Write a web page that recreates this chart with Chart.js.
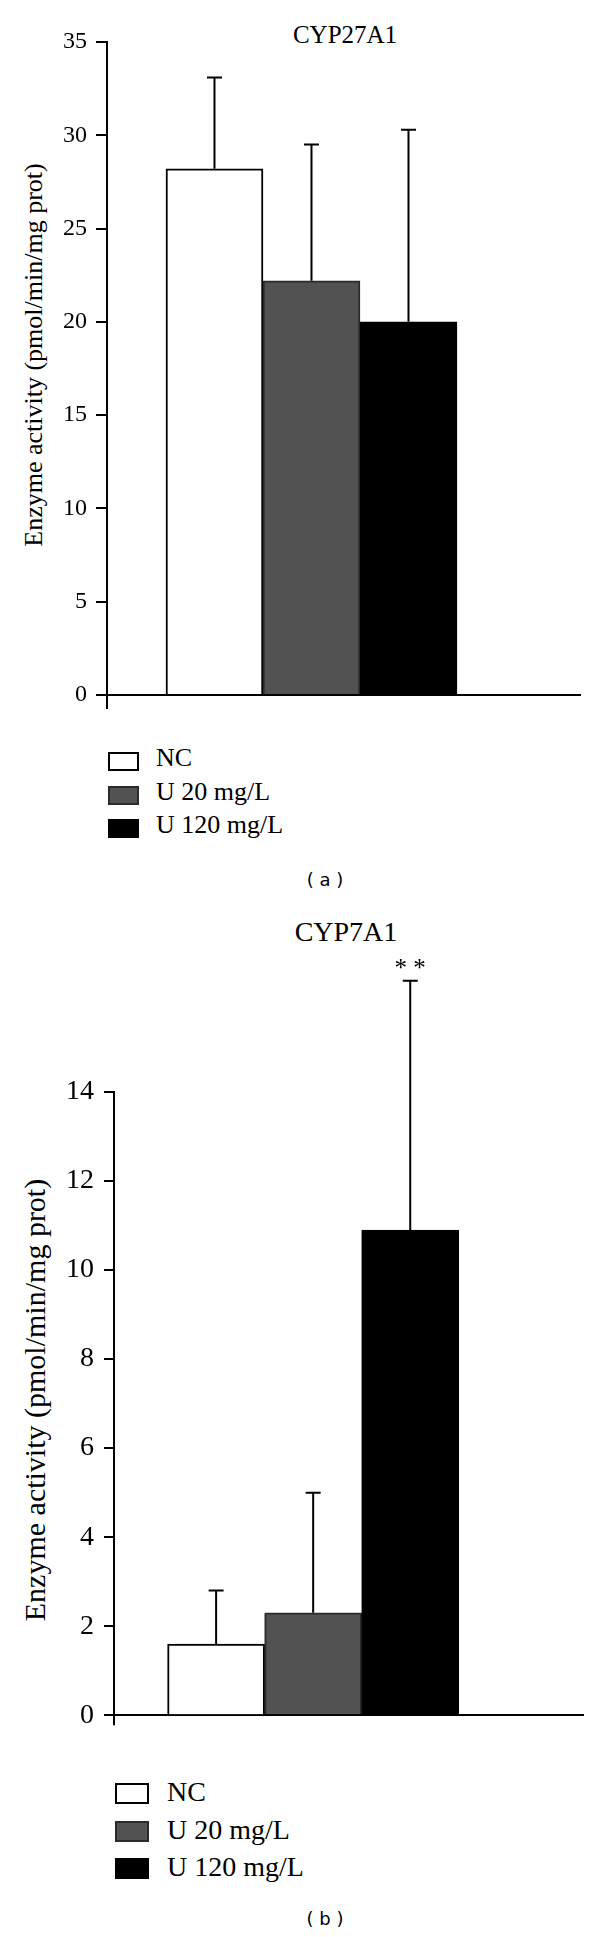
<!DOCTYPE html>
<html lang="en">

<head>
  <meta charset="UTF-8">
  <title>CYP27A1 / CYP7A1 enzyme activity</title>
  <script src="https://cdn.jsdelivr.net/npm/chart.js@4"></script>
  <style>
    body {
      margin: 0;
      width: 600px;
      height: 1937px;
      position: relative;
      overflow: hidden;
      background: #fff;
      color: #000;
      font-family: 'Liberation Serif', serif;
    }

    canvas,
    .txt {
      position: absolute;
    }

    .txt {
      line-height: 1;
      white-space: nowrap;
      text-align: center;
    }

    .ylab {
      width: 460px;
      transform: rotate(-90deg);
    }

    .cap {
      font-family: 'DejaVu Sans', sans-serif;
      font-size: 18px;
      width: 100px;
      left: 275px;
    }

    .row {
      position: absolute;
    }

    .row .box {
      position: absolute;
      left: 0;
      box-sizing: border-box;
      border: 2px solid #000;
    }

    .row .lbl {
      position: absolute;
      line-height: 1;
      white-space: nowrap;
    }
  </style>
</head>

<body>
  <div class="txt" style="left:245px; width:200px; top:22px; font-size:25px;">CYP27A1</div>
  <div class="txt ylab" style="left:-196px; top:342px; font-size:26px;">Enzyme activity (pmol/min/mg prot)</div>
  <canvas id="chartA" width="600" height="720" style="left:0; top:0;"></canvas>
  <div id="legendA"></div>
  <div class="txt cap" style="top:871px;">( a )</div>

  <div class="txt" style="left:246px; width:200px; top:918px; font-size:28px;">CYP7A1</div>
  <div class="txt ylab" style="left:-195px; top:1385px; font-size:30px;">Enzyme activity (pmol/min/mg prot)</div>
  <canvas id="chartB" width="600" height="802" style="left:0; top:940px;"></canvas>
  <div id="legendB"></div>
  <div class="txt cap" style="top:1910px;">( b )</div>

  <script>
    // groups (same for both panels)
    const groups = ['NC', 'U 20 mg/L', 'U 120 mg/L'];
    const xPos = [1, 2, 3];

    // CYP27A1, panel (a)
    const cyp27Mean = [28.2, 22.2, 20.0];
    const cyp27Err = [4.9, 7.3, 10.3];
    const cyp27Ticks = [0, 5, 10, 15, 20, 25, 30, 35];
    const cyp27Marks = ['', '', ''];

    // CYP7A1, panel (b)
    const cyp7Mean = [1.6, 2.3, 10.9];
    const cyp7Err = [1.2, 2.7, 5.6];
    const cyp7Ticks = [0, 2, 4, 6, 8, 10, 12, 14];
    const cyp7Marks = ['', '', '**'];

    const fills = ['#ffffff', '#525252', '#000000'];
    const edges = ['#000000', '#2b2b2b', '#000000'];

    // mean + SD whiskers, and significance stars on top
    const errorBars = {
      id: 'errorBars',
      afterDatasetsDraw(chart, args, opts) {
        const ctx = chart.ctx;
        const y = chart.scales.y;
        const bars = chart.getDatasetMeta(0).data;
        ctx.save();
        ctx.strokeStyle = '#000';
        ctx.lineWidth = 2;
        bars.forEach((bar, i) => {
          const top = y.getPixelForValue(opts.means[i] + opts.errs[i]);
          ctx.beginPath();
          ctx.moveTo(bar.x, bar.y);
          ctx.lineTo(bar.x, top);
          ctx.moveTo(bar.x - 7.5, top);
          ctx.lineTo(bar.x + 7.5, top);
          ctx.stroke();
          if (opts.marks[i]) {
            ctx.fillStyle = '#000';
            ctx.font = opts.markFont;
            ctx.textAlign = 'center';
            ctx.textBaseline = 'alphabetic';
            ctx.fillText(opts.marks[i].split('').join(' '), bar.x, top - 5);
          }
        });
        ctx.restore();
      }
    };

    function makeChart(id, means, errs, marks, ticks, o) {
      return new Chart(document.getElementById(id), {
        type: 'bar',
        data: {
          datasets: [{
            data: xPos.map((x, i) => ({ x: x, y: means[i] })),
            backgroundColor: fills,
            borderColor: edges,
            borderWidth: 2,
            barPercentage: 1,
            categoryPercentage: 1
          }]
        },
        options: {
          responsive: false,
          animation: false,
          layout: { padding: { top: o.top, right: o.right, left: 0, bottom: 0 } },
          plugins: {
            legend: { display: false },
            tooltip: { enabled: false },
            errorBars: { means: means, errs: errs, marks: marks, markFont: '25px "Liberation Serif"' }
          },
          scales: {
            x: {
              type: 'linear',
              min: o.xmin,
              max: o.xmax,
              offset: false,
              afterBuildTicks: s => { s.ticks = [{ value: s.min }]; },
              afterFit: s => { s.height = 25; },
              ticks: { callback: () => '' },
              grid: { offset: false, drawOnChartArea: false, color: '#000', lineWidth: 2, tickLength: o.stub },
              border: { color: '#000', width: 2 }
            },
            y: {
              min: ticks[0],
              max: ticks[ticks.length - 1],
              afterBuildTicks: s => { s.ticks = ticks.map(v => ({ value: v })); },
              afterFit: s => { s.width = o.left; },
              ticks: {
                padding: o.pad,
                color: '#000',
                font: { family: 'Liberation Serif', size: o.font }
              },
              grid: { drawOnChartArea: false, color: '#000', lineWidth: 2, tickLength: o.tick },
              border: { color: '#000', width: 2 }
            }
          }
        },
        plugins: [errorBars]
      });
    }

    function makeLegend(id, o) {
      const wrap = document.getElementById(id);
      groups.forEach((g, i) => {
        const row = document.createElement('div');
        row.className = 'row';
        row.style.left = o.left + 'px';
        row.style.top = (o.top + i * o.step) + 'px';
        const box = document.createElement('span');
        box.className = 'box';
        box.style.top = o.boxTop + 'px';
        box.style.width = o.boxW + 'px';
        box.style.height = o.boxH + 'px';
        box.style.background = fills[i];
        box.style.borderColor = edges[i];
        const lbl = document.createElement('span');
        lbl.className = 'lbl';
        lbl.style.left = o.textLeft + 'px';
        lbl.style.fontSize = o.font + 'px';
        lbl.textContent = g;
        row.appendChild(box);
        row.appendChild(lbl);
        wrap.appendChild(row);
      });
    }

    makeChart('chartA', cyp27Mean, cyp27Err, cyp27Marks, cyp27Ticks,
      { top: 42, right: 20, left: 107, xmin: -0.108, xmax: 4.768, tick: 11, stub: 14, pad: 9, font: 24 });
    makeChart('chartB', cyp7Mean, cyp7Err, cyp7Marks, cyp7Ticks,
      { top: 152, right: 17, left: 114, xmin: -0.052, xmax: 4.78, tick: 10, stub: 10, pad: 10, font: 28 });

    makeLegend('legendA', { left: 108, top: 745, step: 33.5, boxTop: 7, boxW: 31, boxH: 19, textLeft: 48, font: 26 });
    makeLegend('legendB', { left: 115, top: 1778, step: 37.5, boxTop: 5, boxW: 34, boxH: 21, textLeft: 52, font: 28 });
  </script>
</body>

</html>
